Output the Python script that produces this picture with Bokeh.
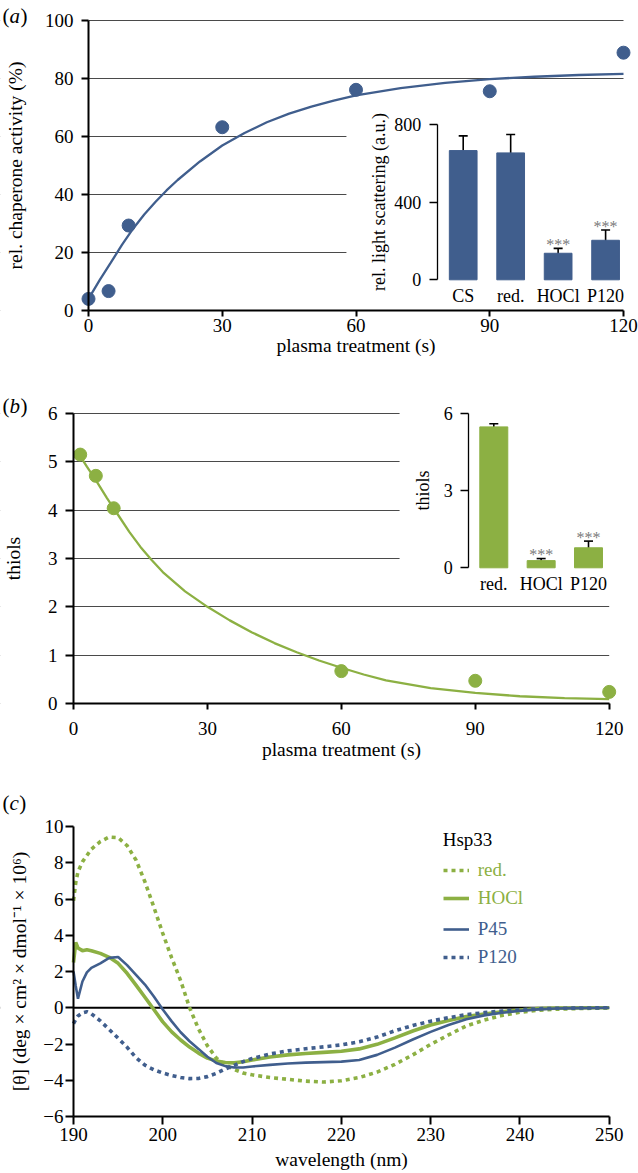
from bokeh.plotting import figure
from bokeh.models import (Range1d, LinearAxis, FixedTicker, ColumnDataSource, Whisker,
                          TeeHead, BoxAnnotation, Span, Legend, LegendItem, Label)
from bokeh.layouts import column
from bokeh.embed import file_html
from bokeh.resources import INLINE
from bokeh.core.properties import value

# ---------------- data ----------------
# (a) chaperone activity vs plasma treatment
time_a = [0, 4.5, 9, 30, 60, 90, 120]
activity = [4.0, 6.7, 29.3, 63.2, 76.1, 75.6, 88.9]
fit_time_a = [0, 2.5, 5, 7.5, 10, 12.5, 15, 17.5, 20, 25, 30, 35, 40, 45, 50, 55, 60,
              70, 80, 90, 100, 110, 120]
fit_activity = [4.0, 10.5, 16.5, 22.6, 28.2, 33.1, 37.4, 41.4, 45.0, 51.4, 56.9, 61.2,
                64.9, 67.9, 70.3, 72.4, 74.2, 76.7, 78.5, 79.8, 80.6, 81.2, 81.6]
time_ticks = [0, 30, 60, 90, 120]
activity_ticks = [0, 20, 40, 60, 80, 100]

scatter_labels = ["CS", "red.", "HOCl", "P120"]
scatter_values = [667, 655, 137, 204]
scatter_errors = [76, 95, 25, 53]
scatter_signif = ["", "", "***", "***"]
scatter_ticks = [0, 400, 800]

# (b) thiols vs plasma treatment
time_b = [1.5, 5, 9, 60, 90, 120]
thiols = [5.15, 4.71, 4.04, 0.67, 0.47, 0.24]
fit_time_b = [1.5, 3, 5, 7.5, 10, 12.5, 15, 17.5, 20, 25, 30, 35, 40, 45, 50, 55, 60, 65,
              70, 80, 90, 100, 110, 120]
fit_thiols = [5.12, 4.9, 4.62, 4.25, 3.9, 3.55, 3.24, 2.97, 2.72, 2.32, 2.0, 1.72, 1.47,
              1.25, 1.06, 0.89, 0.74, 0.6, 0.48, 0.32, 0.22, 0.15, 0.11, 0.09]
thiol_ticks = [0, 1, 2, 3, 4, 5, 6]

thiol_labels = ["red.", "HOCl", "P120"]
thiol_values = [5.49, 0.28, 0.78]
thiol_errors = [0.12, 0.08, 0.26]
thiol_signif = ["", "***", "***"]
thiol_inset_ticks = [0, 3, 6]

# (c) CD spectra
wavelength = [190, 190.25, 190.5, 191, 191.5, 192, 193, 194, 195, 196, 197, 198, 199, 200,
              201, 202, 203, 204, 205, 206, 207, 208, 209, 210, 212, 214, 216, 218, 220,
              222, 224, 226, 228, 230, 232, 234, 236, 238, 240, 242, 244, 246, 248, 250]
cd_red = [5.9, 6.9, 7.5, 8.05, 8.4, 8.75, 9.17, 9.42, 9.38, 8.95, 8.15, 6.95, 5.55, 4.1,
          2.75, 1.5, 0.0, -1.16, -2.1, -2.78, -3.15, -3.4, -3.6, -3.7, -3.85, -3.95, -4.05,
          -4.1, -4.03, -3.85, -3.55, -3.12, -2.6, -2.02, -1.5, -1.0, -0.68, -0.42, -0.25,
          -0.14, -0.08, -0.05, -0.03, -0.01]
cd_hocl = [2.5, 3.6, 3.3, 3.15, 3.2, 3.15, 3.0, 2.78, 2.45, 1.9, 1.25, 0.58, -0.1, -0.78,
           -1.33, -1.78, -2.17, -2.5, -2.78, -2.94, -3.02, -3.04, -2.98, -2.88, -2.72, -2.6,
           -2.52, -2.46, -2.4, -2.27, -2.02, -1.66, -1.28, -0.95, -0.7, -0.49, -0.34, -0.22,
           -0.12, -0.05, -0.02, -0.01, 0.0, 0.0]
cd_p45 = [2.0, 1.2, 0.5, 1.45, 1.95, 2.2, 2.45, 2.75, 2.8, 2.35, 1.82, 1.28, 0.62, -0.1,
          -0.75, -1.35, -1.85, -2.27, -2.7, -3.05, -3.22, -3.3, -3.3, -3.24, -3.15, -3.08,
          -3.03, -3.0, -2.97, -2.88, -2.6, -2.2, -1.75, -1.33, -0.95, -0.63, -0.42, -0.28,
          -0.17, -0.09, -0.04, -0.02, -0.01, 0.0]
cd_p120 = [-0.88, -0.65, -0.45, -0.28, -0.22, -0.33, -0.72, -1.2, -1.68, -2.18, -2.75, -3.17,
           -3.42, -3.6, -3.74, -3.85, -3.91, -3.9, -3.8, -3.62, -3.38, -3.18, -2.97, -2.8,
           -2.55, -2.38, -2.26, -2.16, -2.05, -1.88, -1.62, -1.27, -0.98, -0.74, -0.55,
           -0.38, -0.27, -0.18, -0.11, -0.06, -0.03, -0.02, -0.01, 0.0]
cd_names = ["red.", "HOCl", "P45", "P120"]
wl_ticks = [190, 200, 210, 220, 230, 240, 250]
cd_ticks = [-6, -4, -2, 0, 2, 4, 6, 8, 10]
cd_tick_labels = ["\u22126", "\u22124", "\u22122", "0", "2", "4", "6", "8", "10"]

# ---------------- style ----------------
FONT = "Liberation Serif"
BLUE = "#405E8D"
GREEN = "#8CB043"
GRIDC = "#4a4a4a"
SIGC = "#7a7a7a"
W = 638
FAR = 1e5


def lin_range(p_lo, p_hi, v_lo, v_hi, f_lo, f_hi):
    """Range whose frame edges (pixels f_lo, f_hi) follow the pixel anchors p->v."""
    k = (v_hi - v_lo) / (p_hi - p_lo)
    return Range1d(v_lo + (f_lo - p_lo) * k, v_lo + (f_hi - p_lo) * k)


def style_axis(ax, size="19px", lab_size="19.5px", lw=2, tick=7, standoff=6,
               label_standoff=6):
    ax.axis_line_color = "black"
    ax.axis_line_width = lw
    ax.major_tick_line_color = "black"
    ax.major_tick_line_width = lw
    ax.major_tick_out = tick
    ax.major_tick_in = 0
    ax.minor_tick_line_color = None
    ax.major_label_text_font = FONT
    ax.major_label_text_font_size = size
    ax.major_label_text_color = "black"
    ax.major_label_standoff = standoff
    ax.axis_label_text_font = FONT
    ax.axis_label_text_font_size = lab_size
    ax.axis_label_text_font_style = "normal"
    ax.axis_label_text_color = "black"
    ax.axis_label_standoff = label_standoff


def mask(p, left=-FAR, right=FAR, bottom=-FAR, top=FAR, **kw):
    p.add_layout(BoxAnnotation(left=left, right=right, bottom=bottom, top=top,
                               fill_color="white", fill_alpha=1.0, line_color=None,
                               level="underlay", **kw))


def panel_label(p, letter, x, y):
    widths = {"a": 10.5, "b": 10.5, "c": 9.3}
    common = dict(x_units="screen", y_units="screen", text_font=FONT,
                  text_font_size="21px", text_baseline="middle", text_color="black")
    p.add_layout(Label(x=x, y=y, text="(", **common))
    p.add_layout(Label(x=x + 7, y=y, text=letter, text_font_style="italic", **common))
    p.add_layout(Label(x=x + 7.5 + widths[letter], y=y, text=")", **common))


def base_fig(h, xr, yr):
    # the frame fills the whole canvas; every axis is placed with fixed_location
    p = figure(frame_width=W, frame_height=h, min_border_left=0, min_border_right=0,
               min_border_top=0, min_border_bottom=0, x_range=xr, y_range=yr,
               output_backend="svg", toolbar_location=None)
    p.outline_line_color = None
    p.xgrid.visible = False
    return p


def add_inset(p, labels, values, errors, signif, ticks, ylabel, color, bar_w, axis_loc,
              box, ylab_standoff, tick_standoff):
    idx = list(range(len(labels)))
    mask(p, x_range_name="ix", y_range_name="iy", **box)
    p.vbar(x=idx, top=values, width=bar_w, color=color, x_range_name="ix",
           y_range_name="iy")
    src = ColumnDataSource(dict(x=idx, upper=[v + e for v, e in zip(values, errors)],
                                lower=[v - e for v, e in zip(values, errors)]))
    w = Whisker(base="x", upper="upper", lower="lower", source=src, x_range_name="ix",
                y_range_name="iy", line_color="black", line_width=1.6,
                upper_head=TeeHead(size=9, line_width=1.6, line_color="black"),
                lower_head=TeeHead(size=9, line_width=1.6, line_color="black"))
    p.add_layout(w)
    sx = [i for i, s in zip(idx, signif) if s]
    sy = [v + e for v, e, s in zip(values, errors, signif) if s]
    st = [s for s in signif if s]
    p.text(x=sx, y=sy, text=st, x_range_name="ix", y_range_name="iy",
           text_align="center", text_baseline="middle", y_offset=-4,
           text_font=value(FONT), text_font_size="16px", text_color=SIGC)
    iy_ax = LinearAxis(x_range_name="ix", y_range_name="iy", fixed_location=axis_loc,
                       bounds=(ticks[0], ticks[-1]), ticker=FixedTicker(ticks=ticks),
                       axis_label=ylabel)
    style_axis(iy_ax, size="18px", lab_size="18px", lw=1.3, tick=8,
               standoff=tick_standoff, label_standoff=ylab_standoff)
    p.add_layout(iy_ax, "left")
    ix_ax = LinearAxis(x_range_name="ix", y_range_name="iy", fixed_location=0,
                       ticker=FixedTicker(ticks=idx),
                       major_label_overrides={i: l for i, l in zip(idx, labels)})
    style_axis(ix_ax, size="18px", lw=1.3, tick=0, standoff=6)
    ix_ax.axis_line_color = None
    ix_ax.major_tick_line_color = None
    p.add_layout(ix_ax, "below")


# ---------------- (a) ----------------
HA = 365
pa = base_fig(HA, lin_range(88, 623, 0, 120, 0, W), lin_range(310, 20, 0, 100, HA, 0))
pa.extra_x_ranges = {"ix": lin_range(462.7, 605.1, 0, 3, 0, W)}
pa.extra_y_ranges = {"iy": lin_range(279.3, 124.3, 0, 800, HA, 0)}
ya = pa.yaxis[0]
ya.fixed_location = time_ticks[0]
ya.bounds = (activity_ticks[0], activity_ticks[-1])
ya.ticker = FixedTicker(ticks=activity_ticks)
ya.axis_label = "rel. chaperone activity (%)"
style_axis(ya, standoff=8, label_standoff=16)
xa = pa.xaxis[0]
xa.fixed_location = activity_ticks[0]
xa.bounds = (time_ticks[0], time_ticks[-1])
xa.ticker = FixedTicker(ticks=time_ticks)
xa.axis_label = "plasma treatment (s)"
style_axis(xa, tick=6, standoff=2, label_standoff=0)
pa.ygrid.grid_line_color = GRIDC
pa.ygrid.grid_line_width = 1
mask(pa, right=time_ticks[0])
mask(pa, left=time_ticks[-1])
add_inset(pa, scatter_labels, scatter_values, scatter_errors, scatter_signif, scatter_ticks,
          "rel. light scattering (a.u.)", BLUE, 0.584, -0.548, dict(left=-2.46, top=925),
          3, 8)
pa.line(fit_time_a, fit_activity, line_color=BLUE, line_width=2.3)
pa.scatter(time_a, activity, size=13, fill_color=BLUE, line_color=BLUE)
panel_label(pa, "a", 2, HA - 15)

# ---------------- (b) ----------------
TB, HB = 365, 396
pb = base_fig(HB, lin_range(73, 608.7, 0, 120, 0, W),
              lin_range(703, 413, 0, 6, TB + HB, TB))
pb.extra_x_ranges = {"ix": lin_range(493.3, 588, 0, 2, 0, W)}
pb.extra_y_ranges = {"iy": lin_range(567.3, 413.3, 0, 6, TB + HB, TB)}
yb = pb.yaxis[0]
yb.fixed_location = time_ticks[0]
yb.bounds = (thiol_ticks[0], thiol_ticks[-1])
yb.ticker = FixedTicker(ticks=thiol_ticks)
yb.axis_label = "thiols"
style_axis(yb, tick=8, standoff=8, label_standoff=21)
xb = pb.xaxis[0]
xb.fixed_location = thiol_ticks[0]
xb.bounds = (time_ticks[0], time_ticks[-1])
xb.ticker = FixedTicker(ticks=time_ticks)
xb.axis_label = "plasma treatment (s)"
style_axis(xb, tick=6, standoff=12, label_standoff=1)
pb.ygrid.grid_line_color = GRIDC
pb.ygrid.grid_line_width = 1
mask(pb, right=time_ticks[0])
mask(pb, left=time_ticks[-1])
add_inset(pb, thiol_labels, thiol_values, thiol_errors, thiol_signif, thiol_inset_ticks,
          "thiols", GREEN, 0.591, -0.528, dict(left=-1.99, bottom=-1.08), 8, 8)
pb.line(fit_time_b, fit_thiols, line_color=GREEN, line_width=2.3)
pb.scatter(time_b, thiols, size=13, fill_color=GREEN, line_color=GREEN)
panel_label(pb, "b", 2, TB + HB - 405)

# ---------------- (c) ----------------
TC, HC = 761, 412
pc = base_fig(HC, lin_range(73, 608.7, 190, 250, 0, W),
              lin_range(1116, 826, -6, 10, TC + HC, TC))
pc.ygrid.visible = False
yc = pc.yaxis[0]
yc.fixed_location = wl_ticks[0]
yc.bounds = (cd_ticks[0], cd_ticks[-1])
yc.ticker = FixedTicker(ticks=cd_ticks)
yc.major_label_overrides = {t: l for t, l in zip(cd_ticks, cd_tick_labels)}
yc.axis_label = "[\u03b8] (deg \u00d7 cm\u00b2 \u00d7 dmol\u207b\u00b9 \u00d7 10\u2076)"
style_axis(yc, tick=8, standoff=2, label_standoff=10)
xc = pc.xaxis[0]
xc.fixed_location = cd_ticks[0]
xc.bounds = (wl_ticks[0], wl_ticks[-1])
xc.ticker = FixedTicker(ticks=wl_ticks)
xc.axis_label = "wavelength (nm)"
style_axis(xc, tick=8, standoff=3, label_standoff=5)
pc.add_layout(Span(location=0, dimension="width", line_color="black", line_width=1.8,
                   level="underlay"))
mask(pc, right=wl_ticks[0])
mask(pc, left=wl_ticks[-1])
r_red = pc.line(wavelength, cd_red, line_color=GREEN, line_width=3.6, line_dash="4 4")
r_hocl = pc.line(wavelength, cd_hocl, line_color=GREEN, line_width=3.6)
r_p45 = pc.line(wavelength, cd_p45, line_color=BLUE, line_width=2.6)
r_p120 = pc.line(wavelength, cd_p120, line_color=BLUE, line_width=3.6, line_dash="4 4")

leg_kw = dict(border_line_color=None, background_fill_alpha=0, padding=0, margin=0,
              spacing=6, glyph_width=26, glyph_height=20, label_height=20,
              label_standoff=9, label_text_font=FONT, label_text_font_size="19px")
leg1 = Legend(items=[LegendItem(label=cd_names[0], renderers=[r_red]),
                     LegendItem(label=cd_names[1], renderers=[r_hocl])],
              title="Hsp33", title_text_font=FONT, title_text_font_size="19px",
              title_text_font_style="normal", title_text_color="black", title_standoff=8,
              location=(442.7, 207 + 57), label_text_color=GREEN, **leg_kw)
leg2 = Legend(items=[LegendItem(label=cd_names[2], renderers=[r_p45]),
                     LegendItem(label=cd_names[3], renderers=[r_p120])],
              location=(442.7, 148 + 57), label_text_color=BLUE, **leg_kw)
pc.add_layout(leg1)
pc.add_layout(leg2)
panel_label(pc, "c", 2, TC + HC - 802)

layout = column(pa, pb, pc, spacing=0)
open("out.html", "w").write(file_html(layout, INLINE))
